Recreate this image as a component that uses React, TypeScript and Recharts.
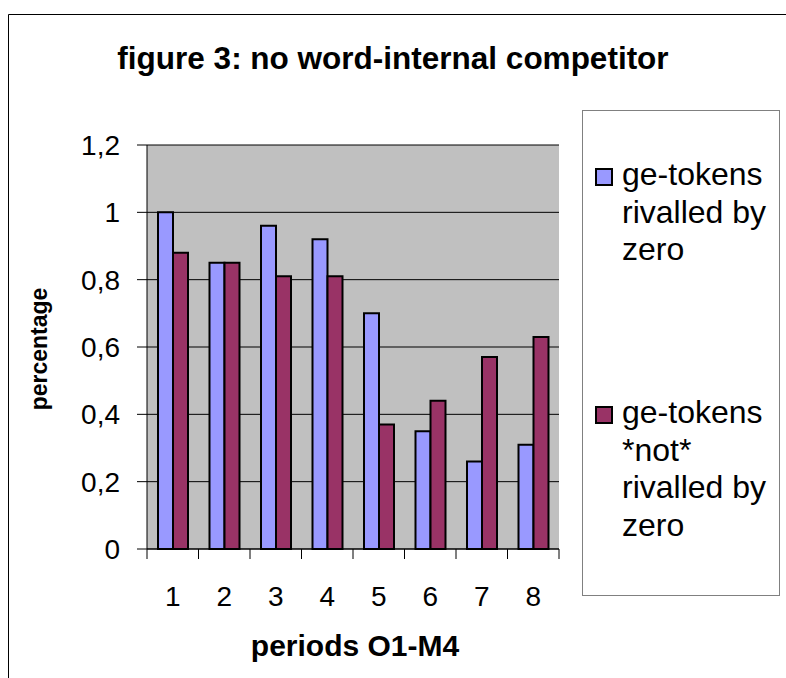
import React from 'react';
import { BarChart, Bar, XAxis, YAxis, CartesianGrid, Legend } from 'recharts';

const periods = ['1', '2', '3', '4', '5', '6', '7', '8'];
const rivalledByZero = [1.0, 0.85, 0.96, 0.92, 0.7, 0.35, 0.26, 0.31];
const notRivalledByZero = [0.88, 0.85, 0.81, 0.81, 0.37, 0.44, 0.57, 0.63];
const yTicks = [0, 0.2, 0.4, 0.6, 0.8, 1, 1.2];
const seriesNames = ['ge-tokens rivalled by zero', 'ge-tokens *not* rivalled by zero'];
const legendLines = [
  ['ge-tokens', 'rivalled by', 'zero'],
  ['ge-tokens', '*not*', 'rivalled by', 'zero'],
];
const seriesColors = ['#9999ff', '#993366'];

const data = periods.map((p, i) => ({
  period: p,
  rivalled: rivalledByZero[i],
  notRivalled: notRivalledByZero[i],
}));

const W = 786;
const H = 678;
const FONT = '"Liberation Sans", Arial, Helvetica, sans-serif';
const PLOT = { left: 147, right: 559, top: 145, bottom: 549 };
const BAND = (PLOT.right - PLOT.left) / periods.length;

// excel style: tick marks sit between the categories, labels in the middle
const PeriodTick = (props: any) => {
  const { x, y, payload, index } = props;
  const left = x - BAND / 2;
  return (
    <g>
      <line x1={left} y1={y} x2={left} y2={y + 10} stroke="#000" />
      {index === periods.length - 1 && (
        <line x1={x + BAND / 2} y1={y} x2={x + BAND / 2} y2={y + 10} stroke="#000" />
      )}
      <text x={x} y={y + 57} textAnchor="middle" fontSize={28} fontFamily={FONT} fill="#000">
        {payload.value}
      </text>
    </g>
  );
};

const renderYLabel = (props: any) => (
  <text
    x={47}
    y={349}
    transform="rotate(-90 47 349)"
    textAnchor="middle"
    fontSize={23}
    fontWeight="bold"
    fontFamily={FONT}
    fill="#000"
  >
    {props.value}
  </text>
);

const renderXLabel = (props: any) => (
  <text x={355} y={656} textAnchor="middle" fontSize={30} fontWeight="bold" fontFamily={FONT} fill="#000">
    {props.value}
  </text>
);

const LegendBox = () => {
  const tops = [156, 394];
  return (
    <div
      style={{
        boxSizing: 'border-box',
        position: 'relative',
        width: 198,
        height: 486,
        border: '1px solid #808080',
        background: '#fff',
        fontFamily: FONT,
        fontSize: 32,
        lineHeight: '37.5px',
        color: '#000',
      }}
    >
      {legendLines.map((lines, i) => (
        <div key={seriesNames[i]} style={{ position: 'absolute', left: 0, top: tops[i] - 111 }}>
          <div
            style={{
              position: 'absolute',
              left: 12,
              top: 12,
              width: 14,
              height: 14,
              background: seriesColors[i],
              border: '2px solid #000',
            }}
          />
          <div style={{ position: 'absolute', left: 39, top: 0, whiteSpace: 'nowrap' }}>
            {lines.map((l) => (
              <div key={l}>{l}</div>
            ))}
          </div>
        </div>
      ))}
    </div>
  );
};

export default function App() {
  return (
    <div style={{ position: 'relative', width: W, height: H, overflow: 'hidden', background: '#fff' }}>
      <style>{'html, body { margin: 0; padding: 0; overflow: hidden; }'}</style>
      <div style={{ position: 'absolute', left: 0, top: 0 }}>
        <BarChart
          width={W}
          height={H}
          data={data}
          barGap={0}
          margin={{ top: PLOT.top, right: W - PLOT.right, bottom: H - PLOT.bottom - 60, left: PLOT.left - 60 }}
        >
          <CartesianGrid vertical={false} fill="#c0c0c0" stroke="#000" />
          <XAxis
            dataKey="period"
            height={60}
            tickSize={0}
            tickMargin={0}
            tickLine={false}
            axisLine={{ stroke: '#000' }}
            tick={<PeriodTick />}
            interval={0}
            label={{ value: 'periods O1-M4', content: renderXLabel }}
          />
          <XAxis xAxisId="top" orientation="top" height={0} tick={false} tickLine={false} axisLine={{ stroke: '#808080', strokeWidth: 2 }} />
          <YAxis
            width={60}
            domain={[0, 1.2]}
            ticks={yTicks}
            interval={0}
            tickSize={10}
            tickMargin={17}
            tickFormatter={(v: number) => String(v).replace('.', ',')}
            tick={{ fontSize: 28, fill: '#000', fontFamily: FONT }}
            axisLine={{ stroke: '#000' }}
            tickLine={{ stroke: '#000' }}
            label={{ value: 'percentage', content: renderYLabel }}
          />
          <YAxis yAxisId="right" orientation="right" width={0} tick={false} tickLine={false} axisLine={{ stroke: '#808080', strokeWidth: 2 }} />
          <Legend
            layout="vertical"
            align="center"
            verticalAlign="middle"
            wrapperStyle={{ position: 'absolute', left: 582, top: 110, width: 198, height: 486 }}
            content={() => <LegendBox />}
          />
          <Bar dataKey="rivalled" name={seriesNames[0]} fill={seriesColors[0]} stroke="#000" strokeWidth={2} barSize={15} isAnimationActive={false} />
          <Bar dataKey="notRivalled" name={seriesNames[1]} fill={seriesColors[1]} stroke="#000" strokeWidth={2} barSize={15} isAnimationActive={false} />
        </BarChart>
      </div>
      <svg style={{ position: 'absolute', left: 0, top: 0, pointerEvents: 'none' }} width={W} height={H}>
        <polyline points={`8.5,${H} 8.5,14.5 ${W},14.5`} fill="none" stroke="#000" strokeWidth={1} />
        <text x={393} y={69} textAnchor="middle" fontSize={31.5} fontWeight="bold" fontFamily={FONT} fill="#000">
          figure 3: no word-internal competitor
        </text>
      </svg>
    </div>
  );
}
